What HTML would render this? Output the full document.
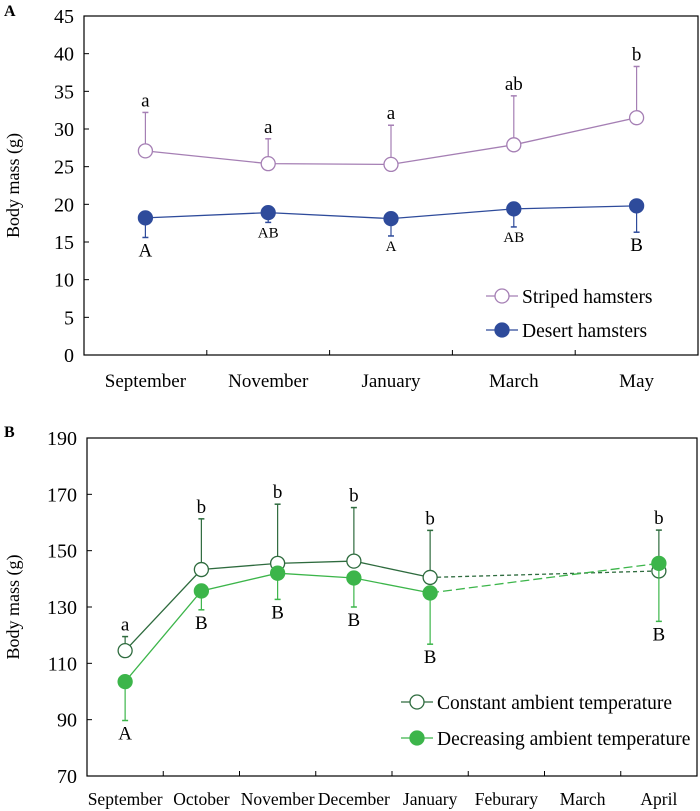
<!DOCTYPE html>
<html><head><meta charset="utf-8"><style>
body{margin:0;background:#fff}
svg{display:block;font-family:"Liberation Serif",serif}
</style></head><body>
<svg id="c" width="700" height="811"></svg>
<script>
// Panel A data
const catsA=["September","November","January","March","May"];
const stripedMean=[27.1,25.4,25.3,27.9,31.5];
const stripedUpper=[32.2,28.7,30.5,34.4,38.3];
const stripedLetters=["a","a","a","ab","b"];
const desertMean=[18.2,18.9,18.1,19.4,19.8];
const desertLower=[15.6,17.6,15.8,17.0,16.3];
const desertLetters=["A","AB","A","AB","B"];
const ticksA=[0,5,10,15,20,25,30,35,40,45];
// Panel B data
const catsB=["September","October","November","December","January","Feburary","March","April"];
const bIdx=[0,1,2,3,4,7];
const constMean=[114.5,143.3,145.5,146.3,140.5,142.8];
const constUpper=[119.5,161.3,166.5,165.3,157.2,157.3];
const constLetters=["a","b","b","b","b","b"];
const decMean=[103.5,135.7,142,140.3,135,145.5];
const decLower=[89.7,129,132.7,130,116.8,124.9];
const decLetters=["A","B","B","B","B","B"];
const ticksB=[70,90,110,130,150,170,190];

const svg=document.getElementById('c');
const NS="http://www.w3.org/2000/svg";
function mk(tag,attrs,parent,name,txt){const e=document.createElementNS(NS,tag);for(const k in attrs)e.setAttribute(k,attrs[k]);


if(txt!==undefined)e.textContent=txt;(parent||svg).appendChild(e);return e;}

function panel(o){
  const g=mk('g',{},svg,o.name);
  const L=o.left,R=o.right,T=o.top,B=o.bottom;
  const n=o.cats.length,bw=(R-L)/n;
  const x=i=>L+bw*(i+0.5);
  const y=v=>B-(v-o.min)/(o.max-o.min)*(B-T);
  mk('rect',{x:L,y:T,width:R-L,height:B-T,fill:'none',stroke:'#000','stroke-width':1.2},g,'plot-frame');
  o.ticks.forEach(t=>{mk('text',{x:L-10,y:y(t)+7,'text-anchor':'end','font-size':20},g,'y-tick-label',String(t));
    mk('line',{x1:L,x2:L+5,y1:y(t),y2:y(t),stroke:'#000'},g,'y-tick');});
  for(let i=1;i<n;i++)mk('line',{x1:L+bw*i,x2:L+bw*i,y1:B,y2:B-5,stroke:'#000'},g,'x-tick');
  o.cats.forEach((c,i)=>mk('text',{x:x(i),y:B+o.labOff,'text-anchor':'middle','font-size':o.catSize},g,'x-tick-label',c));
  mk('text',{x:0,y:0,transform:`translate(${o.titleX},${(T+B)/2}) rotate(-90)`,'text-anchor':'middle','font-size':18},g,'y-axis-title','Body mass (g)');
  mk('text',{x:4,y:o.letterY,'font-size':16,'font-weight':'bold'},g,'panel-label',o.panelLabel);
  o.series.forEach(s=>{
    const xs=s.idx.map(i=>x(i));
    s.mean.forEach((m,k)=>{const e=s.err[k];
      mk('line',{x1:xs[k],x2:xs[k],y1:y(m),y2:y(e),stroke:s.color,'stroke-width':1.2},g,'error-bar');
      mk('line',{x1:xs[k]-3,x2:xs[k]+3,y1:y(e),y2:y(e),stroke:s.color,'stroke-width':1.5},g,'error-cap');
      const up=e>m;const fs=s.lsize?s.lsize[k]:19;
      mk('text',{x:xs[k],y:up?y(e)-6:y(e)+fs,'text-anchor':'middle','font-size':fs},g,'significance-letter',s.letters[k]);
    });
    const solidN=s.solidN||s.mean.length;
    let d='';for(let k=0;k<solidN;k++)d+=(k?'L':'M')+xs[k]+','+y(s.mean[k]);
    mk('path',{d,fill:'none',stroke:s.color,'stroke-width':1.3},g,s.name+'-line');
    if(solidN<s.mean.length){let d2='';for(let k=solidN-1;k<s.mean.length;k++)d2+=(k==solidN-1?'M':'L')+xs[k]+','+y(s.mean[k]);
      mk('path',{d:d2,fill:'none',stroke:s.color,'stroke-width':1.3,'stroke-dasharray':s.dash},g,s.name+'-dashed-line');}
    s.mean.forEach((m,k)=>mk('circle',{cx:xs[k],cy:y(m),r:7,fill:s.filled?s.color:'#fff',stroke:s.color,'stroke-width':1.3},g,s.name+'-point'));
  });
  o.legend.forEach(l=>{
    mk('line',{x1:l.x,x2:l.x+32,y1:l.y,y2:l.y,stroke:l.color,'stroke-width':1.3},g,'legend-line');
    mk('circle',{cx:l.x+16,cy:l.y,r:7,fill:l.filled?l.color:'#fff',stroke:l.color,'stroke-width':1.3},g,'legend-marker');
    mk('text',{x:l.x+36,y:l.y+7,'font-size':19.5},g,'legend-entry',l.text);
  });
}
const purple='#a57fb4',blue='#2e4b9b',dg='#2e6b3e',lg='#3cb54a';
panel({name:'panel-a',left:84,right:698,top:16,bottom:355,min:0,max:45,cats:catsA,ticks:ticksA,labOff:32,catSize:19,titleX:19,panelLabel:'A',letterY:16,
 series:[
  {name:'striped',idx:[0,1,2,3,4],mean:stripedMean,err:stripedUpper,letters:stripedLetters,color:purple,filled:false},
  {name:'desert',idx:[0,1,2,3,4],mean:desertMean,err:desertLower,letters:desertLetters,color:blue,filled:true,lsize:[19,15,15,15,19]}],
 legend:[{x:486,y:296,color:purple,filled:false,text:'Striped hamsters'},{x:486,y:330,color:blue,filled:true,text:'Desert hamsters'}]});
panel({name:'panel-b',left:87,right:697,top:438,bottom:776,min:70,max:190,cats:catsB,ticks:ticksB,labOff:29,catSize:17.5,titleX:19,panelLabel:'B',letterY:437,
 series:[
  {name:'constant',idx:bIdx,mean:constMean,err:constUpper,letters:constLetters,color:dg,filled:false,solidN:5,dash:'4,3'},
  {name:'decreasing',idx:bIdx,mean:decMean,err:decLower,letters:decLetters,color:lg,filled:true,solidN:5,dash:'9,4'}],
 legend:[{x:401,y:702,color:dg,filled:false,text:'Constant ambient temperature'},{x:401,y:738,color:lg,filled:true,text:'Decreasing ambient temperature'}]});
</script>
</body></html>
